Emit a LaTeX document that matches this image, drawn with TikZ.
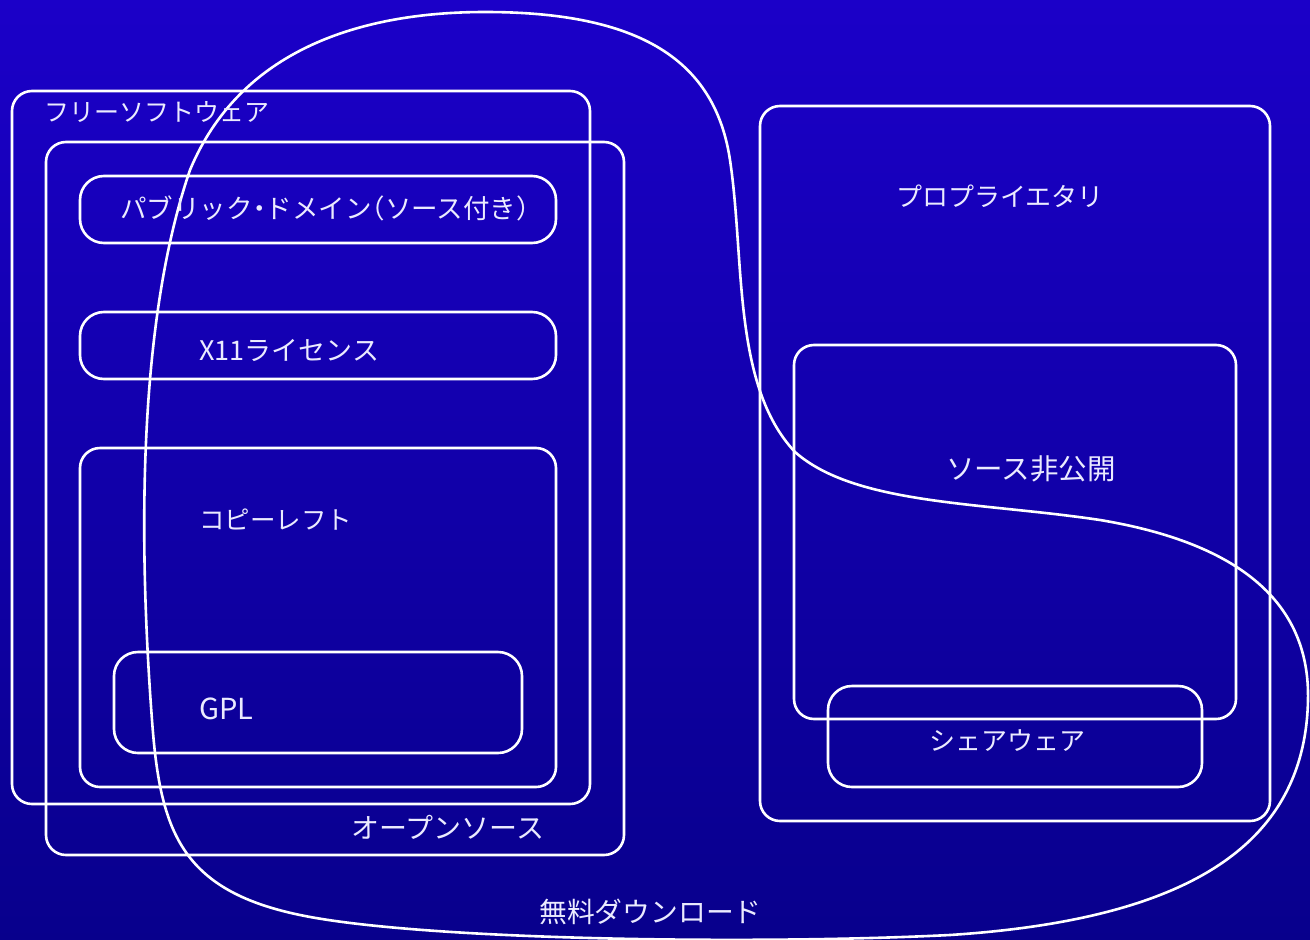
\documentclass[tikz,border=0pt]{standalone}
\usepackage{fontspec}
\setmainfont{Noto Sans CJK JP}
\definecolor{bgtop}{RGB}{27,0,200}
\definecolor{bgbot}{RGB}{8,0,140}
\definecolor{txt}{RGB}{235,235,255}
\newcommand{\hw}[1]{{\addfontfeature{RawFeature=+halt}#1}}
\begin{document}
\begin{tikzpicture}[x=1pt,y=-1pt,
  box/.style={draw=white,line width=2.6pt,rounded corners=20pt},
  pill/.style={draw=white,line width=2.6pt,rounded corners=24pt},
  lbl/.style={text=txt,font=\fontsize{#1}{32}\selectfont,inner sep=0pt,anchor=west},
  lbl/.default=27]
\shade[top color=bgtop,bottom color=bgbot] (0,0) rectangle (1310,940);
\useasboundingbox (0,0) rectangle (1310,940);
% left group
\draw[box] (12,91) rectangle (590,804);
\draw[box] (46,142) rectangle (624,855);
\draw[pill] (80,176) rectangle (556,243);
\draw[pill] (80,312) rectangle (556,379);
\draw[box] (80,448) rectangle (556,787);
\draw[pill] (114,652) rectangle (522,753);
% right group
\draw[box] (760,106) rectangle (1270,821);
\draw[box] (794,345) rectangle (1236,719);
\draw[pill] (828,686) rectangle (1202,787);
% free download blob
\draw[white,line width=2.6pt]
  (485,12) .. controls (640,12) and (715,60) .. (730,160)
  .. controls (745,260) and (732,385) .. (795,452)
  .. controls (855,505) and (980,502) .. (1100,520)
  .. controls (1250,545) and (1310,610) .. (1308,700)
  .. controls (1305,850) and (1180,920) .. (950,935)
  .. controls (750,945) and (420,940) .. (300,915)
  .. controls (180,890) and (160,830) .. (152,720)
  .. controls (140,560) and (135,330) .. (190,170)
  .. controls (240,50) and (360,12) .. (485,12) -- cycle;
% labels
\node[lbl=25] (fs) at (44,112) {フリーソフトウェア};
\node[lbl=26.5] (pd) at (120,208) {パブリック\hw{・}ドメイン\hw{（}ソース付き\hw{）}};
\node[lbl=27] (x11) at (199,350) {X11ライセンス};
\node[lbl=25.5] (cl) at (199,520) {コピーレフト};
\node[lbl=29] (gpl) at (199,709) {GPL};
\node[lbl=28] (os) at (351,827) {オープンソース};
\node[lbl=26] (pr) at (896,196) {プロプライエタリ};
\node[lbl=28.5] (cs) at (946,469) {ソース非公開};
\node[lbl=26] (sw) at (929,741) {シェアウェア};
\node[lbl=27.8] (fd) at (539,912) {無料ダウンロード};
\end{tikzpicture}
\end{document}
